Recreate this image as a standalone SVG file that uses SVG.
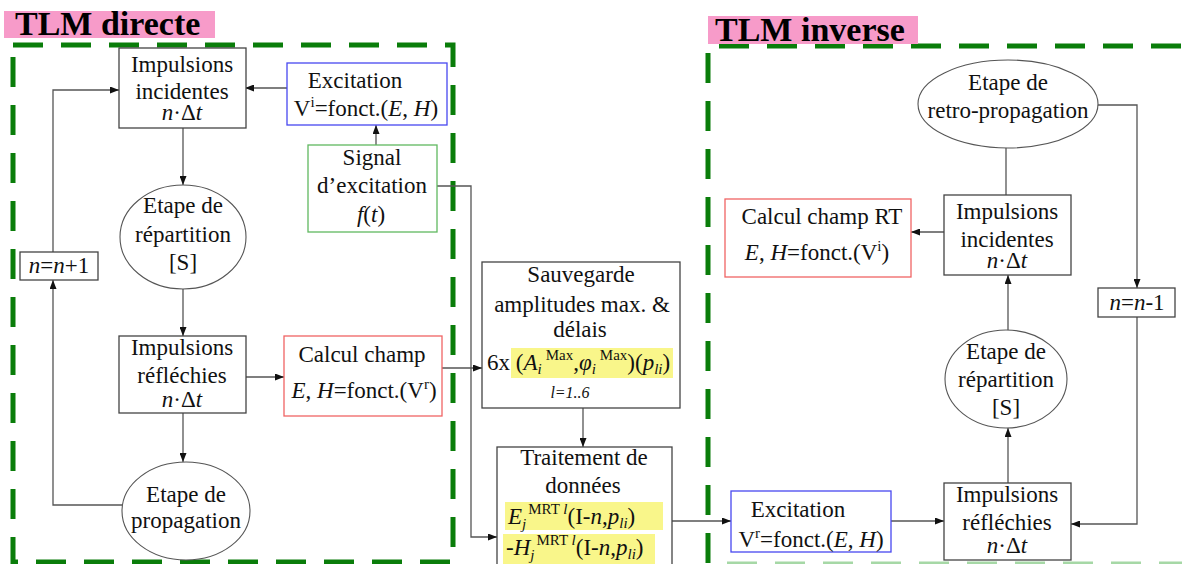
<svg xmlns="http://www.w3.org/2000/svg" width="1182" height="564" viewBox="0 0 1182 564">
<defs>
<marker id="ah" markerWidth="9" markerHeight="7" refX="9" refY="3.5" orient="auto" markerUnits="userSpaceOnUse">
<path d="M0,0 L9,3.5 L0,7 z" fill="#111"/>
</marker>
<style>
text{font-family:'Liberation Serif','Times New Roman','DejaVu Serif',serif}
.t{font-size:23px;fill:#111;text-anchor:middle}
.l{text-anchor:start}
.i{font-style:italic}
.s{font-size:15px}
.ti{font-size:34px;font-weight:bold;fill:#000}
.box{fill:#fff;stroke:#444;stroke-width:1.3}
.blue{fill:#fff;stroke:#4848f0;stroke-width:1.3}
.green{fill:#fff;stroke:#60b860;stroke-width:1.3}
.red{fill:#fff;stroke:#f06464;stroke-width:1.3}
.ell{fill:#fff;stroke:#555;stroke-width:1.1}
.c{fill:none;stroke:#555;stroke-width:1.3}
.dash{fill:none;stroke:#0a7d0a;stroke-width:5;stroke-dasharray:30 18}
.pink{fill:#f79bc9}
.hl{fill:#f9f68a}
</style>
</defs>
<rect width="1182" height="564" fill="#fff"/>

<g id="frames">
<rect class="dash" x="13" y="45" width="440" height="517"/>
<path class="dash" d="M708,563 L708,46 L1182,46"/>
<line x1="727" y1="563" x2="1182" y2="563" style="stroke:#a6d8a6;stroke-width:3;stroke-dasharray:30 18"/>
</g>

<g id="title-directe">
<rect class="pink" x="4" y="11" width="211" height="27"/>
<text class="ti" x="15" y="35">TLM directe</text>
</g>
<g id="title-inverse">
<rect class="pink" x="708" y="16" width="210" height="28"/>
<text class="ti" x="715" y="41">TLM inverse</text>
</g>

<g id="connectors">
<line class="c" x1="287" y1="88" x2="245" y2="88" marker-end="url(#ah)"/>
<line class="c" x1="376" y1="145" x2="376" y2="125" marker-end="url(#ah)"/>
<line class="c" x1="183" y1="128" x2="183" y2="185" marker-end="url(#ah)"/>
<line class="c" x1="183" y1="289" x2="183" y2="336" marker-end="url(#ah)"/>
<line class="c" x1="245" y1="377" x2="284" y2="377" marker-end="url(#ah)"/>
<line class="c" x1="183" y1="413" x2="183" y2="462" marker-end="url(#ah)"/>
<polyline class="c" points="122,505 53,505 53,280" marker-end="url(#ah)"/>
<polyline class="c" points="53,252 53,90 119,90" marker-end="url(#ah)"/>
<polyline class="c" points="437,186 471,186 471,537 497,537" marker-end="url(#ah)"/>
<line class="c" x1="442" y1="368" x2="482" y2="368" marker-end="url(#ah)"/>
<line class="c" x1="583" y1="408" x2="583" y2="447" marker-end="url(#ah)"/>
<line class="c" x1="672" y1="521" x2="731" y2="521" marker-end="url(#ah)"/>
<line class="c" x1="891" y1="521" x2="944" y2="521" marker-end="url(#ah)"/>
<line class="c" x1="1008" y1="483" x2="1008" y2="428" marker-end="url(#ah)"/>
<line class="c" x1="1008" y1="330" x2="1008" y2="275" marker-end="url(#ah)"/>
<line class="c" x1="944" y1="232" x2="911" y2="232" marker-end="url(#ah)"/>
<line class="c" x1="1006" y1="195" x2="1006" y2="148"/>
<polyline class="c" points="1097,105 1137,105 1137,288" marker-end="url(#ah)"/>
<polyline class="c" points="1137,317 1137,524 1071,524" marker-end="url(#ah)"/>
</g>

<g id="impulsions-incidentes">
<rect class="box" x="119" y="48" width="127" height="80"/>
<text class="t" x="182" y="72">Impulsions</text>
<text class="t" x="182" y="99">incidentes</text>
<text class="t" x="182" y="120"><tspan class="i">n</tspan>·Δ<tspan class="i">t</tspan></text>
</g>

<g id="excitation-vi">
<rect class="blue" x="287" y="63" width="160" height="62"/>
<text class="t" x="355" y="88">Excitation</text>
<text class="t" x="366" y="116">V<tspan class="s" dy="-9">i</tspan><tspan dy="9">=fonct.(</tspan><tspan class="i">E</tspan>, <tspan class="i">H</tspan>)</text>
</g>

<g id="signal">
<rect class="green" x="308" y="145" width="129" height="87"/>
<text class="t" x="372" y="165">Signal</text>
<text class="t" x="372" y="193">d’excitation</text>
<text class="t" x="371" y="222"><tspan class="i">f</tspan>(<tspan class="i">t</tspan>)</text>
</g>

<g id="repartition">
<ellipse class="ell" cx="183" cy="237" rx="63" ry="52"/>
<text class="t" x="183" y="213">Etape de</text>
<text class="t" x="183" y="242">répartition</text>
<text class="t" x="183" y="270">[S]</text>
</g>

<g id="n-plus">
<rect class="box" x="20" y="252" width="78" height="28"/>
<text class="t" x="59" y="273"><tspan class="i">n</tspan>=<tspan class="i">n</tspan>+1</text>
</g>

<g id="impulsions-reflechies">
<rect class="box" x="119" y="336" width="127" height="77"/>
<text class="t" x="182" y="355">Impulsions</text>
<text class="t" x="182" y="383">réfléchies</text>
<text class="t" x="182" y="407"><tspan class="i">n</tspan>·Δ<tspan class="i">t</tspan></text>
</g>

<g id="calcul-champ">
<rect class="red" x="284" y="336" width="158" height="80"/>
<text class="t" x="362" y="362">Calcul champ</text>
<text class="t" x="364" y="398"><tspan class="i">E</tspan>, <tspan class="i">H</tspan>=fonct.(V<tspan class="s" dy="-9">r</tspan><tspan dy="9">)</tspan></text>
</g>

<g id="propagation">
<ellipse class="ell" cx="186" cy="511" rx="64" ry="49"/>
<text class="t" x="186" y="502">Etape de</text>
<text class="t" x="186" y="528">propagation</text>
</g>

<g id="sauvegarde">
<rect class="box" x="482" y="262" width="198" height="146"/>
<rect class="hl" x="511" y="348" width="162" height="30"/>
<text class="t" x="581" y="282">Sauvegarde</text>
<text class="t" x="582" y="312">amplitudes max. &amp;</text>
<text class="t" x="580" y="337">délais</text>
<text class="t l" x="487" y="370">6x (<tspan class="i">A</tspan><tspan class="s i" dy="4">i</tspan><tspan class="s" dx="4" dy="-14">Max</tspan><tspan dy="10">,</tspan><tspan class="i">φ</tspan><tspan class="s i" dy="4">i</tspan><tspan class="s" dx="4" dy="-14">Max</tspan><tspan dy="10">)(</tspan><tspan class="i">p</tspan><tspan class="s i" dy="4">li</tspan><tspan dy="-4">)</tspan></text>
<text class="t i" x="570" y="398" style="font-size:16px">l=1..6</text>
</g>

<g id="traitement">
<rect class="box" x="497" y="447" width="175" height="130"/>
<rect class="hl" x="505" y="502" width="158" height="28"/>
<rect class="hl" x="503" y="534" width="152" height="32"/>
<text class="t" x="584" y="465">Traitement de</text>
<text class="t" x="583" y="493">données</text>
<text class="t l" x="508" y="524"><tspan class="i">E</tspan><tspan class="s i" dy="5">j</tspan><tspan class="s" dx="2" dy="-15">MRT </tspan><tspan class="s i">l</tspan><tspan dy="10">(I-</tspan><tspan class="i">n</tspan>,<tspan class="i">p</tspan><tspan class="s i" dy="4">li</tspan><tspan dy="-4">)</tspan></text>
<text class="t l" x="506" y="555">-<tspan class="i">H</tspan><tspan class="s i" dy="5">j</tspan><tspan class="s" dx="2" dy="-15">MRT </tspan><tspan class="s i">l</tspan><tspan dy="10">(I-</tspan><tspan class="i">n</tspan>,<tspan class="i">p</tspan><tspan class="s i" dy="4">li</tspan><tspan dy="-4">)</tspan></text>
</g>

<g id="retro-propagation">
<ellipse class="ell" cx="1008" cy="104" rx="90" ry="44"/>
<text class="t" x="1008" y="90">Etape de</text>
<text class="t" x="1008" y="118">retro-propagation</text>
</g>

<g id="calcul-champ-rt">
<rect class="red" x="725" y="199" width="186" height="78"/>
<text class="t" x="822" y="224">Calcul champ RT</text>
<text class="t" x="817" y="260"><tspan class="i">E</tspan>, <tspan class="i">H</tspan>=fonct.(V<tspan class="s" dy="-9">i</tspan><tspan dy="9">)</tspan></text>
</g>

<g id="impulsions-incidentes-inv">
<rect class="box" x="944" y="195" width="127" height="80"/>
<text class="t" x="1007" y="219">Impulsions</text>
<text class="t" x="1007" y="247">incidentes</text>
<text class="t" x="1007" y="268"><tspan class="i">n</tspan>·Δ<tspan class="i">t</tspan></text>
</g>

<g id="n-minus">
<rect class="box" x="1098" y="288" width="77" height="29"/>
<text class="t" x="1137" y="310"><tspan class="i">n</tspan>=<tspan class="i">n</tspan>-1</text>
</g>

<g id="repartition-inv">
<ellipse class="ell" cx="1006" cy="379" rx="61" ry="49"/>
<text class="t" x="1006" y="359">Etape de</text>
<text class="t" x="1006" y="387">répartition</text>
<text class="t" x="1006" y="415">[S]</text>
</g>

<g id="excitation-vr">
<rect class="blue" x="731" y="491" width="160" height="61"/>
<text class="t" x="798" y="517">Excitation</text>
<text class="t" x="811" y="547">V<tspan class="s" dy="-9">r</tspan><tspan dy="9">=fonct.(</tspan><tspan class="i">E</tspan>, <tspan class="i">H</tspan>)</text>
</g>

<g id="impulsions-reflechies-inv">
<rect class="box" x="944" y="483" width="127" height="77"/>
<text class="t" x="1007" y="502">Impulsions</text>
<text class="t" x="1007" y="530">réfléchies</text>
<text class="t" x="1007" y="553"><tspan class="i">n</tspan>·Δ<tspan class="i">t</tspan></text>
</g>
</svg>
